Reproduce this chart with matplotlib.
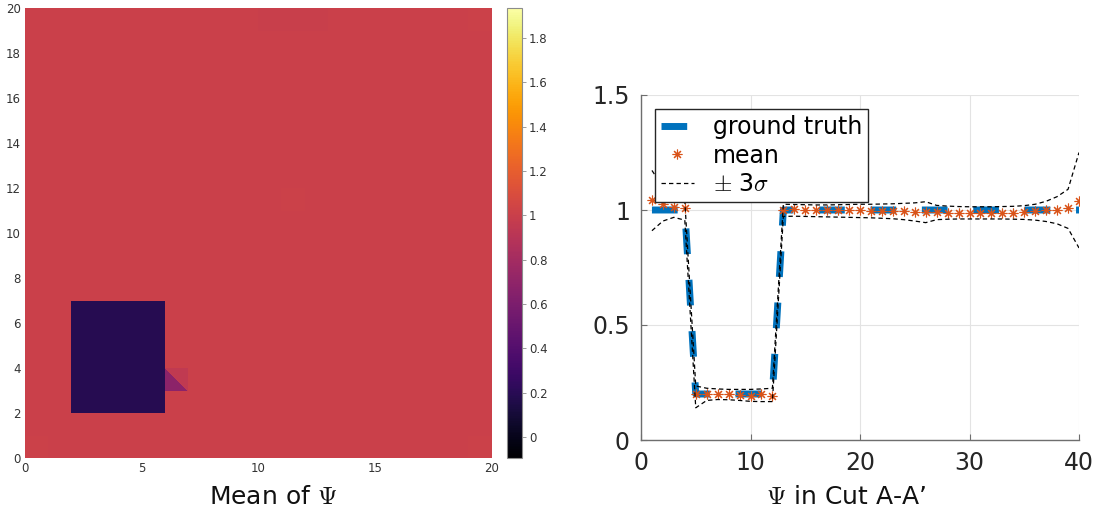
import numpy as np
import matplotlib
matplotlib.use("Agg")
import matplotlib.pyplot as plt
import matplotlib.tri as mtri

plt.rcParams['font.family'] = 'DejaVu Sans'
plt.rcParams['mathtext.fontset'] = 'cm'

# ---------------------------------------------------------------
# Mean of Psi on a 20 x 20 cell mesh (row 0 is the bottom row y in [0,1])
# ---------------------------------------------------------------
psi_cells = [
    [1.01, 1.00, 1.00, 1.00, 1.00, 1.00, 1.005, 1.00, 1.00, 1.00, 1.00, 1.00, 1.00, 1.00, 1.00, 1.00, 1.00, 1.00, 1.00, 1.01],
    [1.00, 1.00, 1.00, 1.00, 1.00, 1.00, 1.00, 1.00, 1.00, 1.00, 1.00, 1.00, 1.00, 1.00, 1.00, 1.00, 1.00, 1.00, 1.00, 1.005],
    [1.00, 1.00, 0.19, 0.19, 0.19, 0.19, 1.00, 1.00, 1.005, 1.00, 1.00, 1.00, 1.00, 1.00, 1.00, 1.00, 1.00, 1.00, 1.00, 1.00],
    [1.00, 1.00, 0.19, 0.19, 0.19, 0.19, 0.95, 1.00, 1.00, 1.00, 1.00, 1.00, 1.00, 1.00, 1.00, 1.00, 1.00, 1.00, 1.00, 1.00],
    [1.00, 1.00, 0.19, 0.19, 0.19, 0.19, 1.00, 1.00, 1.00, 1.00, 1.00, 1.00, 1.00, 1.00, 1.00, 1.00, 1.00, 1.00, 1.00, 1.00],
    [1.00, 1.00, 0.19, 0.19, 0.19, 0.19, 1.00, 1.00, 1.00, 1.00, 1.00, 1.00, 1.00, 1.00, 1.00, 1.00, 1.00, 1.00, 1.00, 1.00],
    [1.00, 1.00, 0.19, 0.19, 0.19, 0.19, 1.00, 1.00, 1.00, 1.00, 1.00, 1.00, 1.00, 1.00, 1.00, 1.00, 1.00, 1.00, 1.00, 1.00],
    [1.00, 1.00, 1.00, 1.00, 1.00, 1.00, 1.00, 1.00, 1.00, 1.00, 1.00, 1.00, 1.00, 1.00, 1.00, 1.00, 1.00, 1.00, 1.00, 1.00],
    [1.00, 1.00, 1.00, 1.00, 1.00, 1.00, 1.00, 1.00, 1.00, 1.00, 1.00, 1.00, 1.00, 1.00, 1.00, 1.00, 1.00, 1.00, 1.00, 1.00],
    [1.00, 1.00, 1.00, 1.00, 1.00, 1.00, 1.00, 1.00, 1.00, 1.00, 1.00, 1.00, 1.00, 1.00, 1.00, 1.00, 1.00, 1.00, 1.00, 1.00],
    [1.00, 1.00, 1.00, 1.00, 1.00, 1.00, 1.00, 1.00, 1.00, 1.00, 1.00, 1.00, 1.00, 1.00, 1.00, 1.00, 1.00, 1.00, 1.00, 1.00],
    [1.00, 1.00, 1.00, 1.00, 1.00, 1.00, 1.00, 1.00, 1.00, 1.00, 1.00, 1.015, 1.00, 1.00, 1.00, 1.00, 1.00, 1.00, 1.00, 1.00],
    [1.00, 1.00, 1.00, 1.00, 1.00, 1.00, 1.00, 1.00, 1.00, 1.00, 1.00, 1.00, 1.00, 1.00, 1.00, 1.00, 1.00, 1.00, 1.00, 1.00],
    [1.00, 1.00, 1.00, 1.00, 1.00, 1.00, 1.00, 1.00, 1.00, 1.00, 1.00, 1.00, 1.00, 1.00, 1.00, 1.00, 1.00, 1.00, 1.00, 1.00],
    [1.00, 1.00, 1.00, 1.00, 1.00, 1.00, 1.00, 1.00, 1.00, 1.00, 1.00, 1.00, 1.00, 1.00, 1.00, 1.00, 1.00, 1.00, 1.00, 1.00],
    [1.00, 1.00, 1.00, 1.00, 1.00, 1.00, 1.00, 1.00, 1.00, 1.00, 1.00, 1.00, 1.00, 1.00, 1.00, 1.00, 1.00, 1.00, 1.00, 1.00],
    [1.00, 1.00, 1.00, 1.00, 1.00, 1.00, 1.00, 1.00, 1.00, 1.00, 1.00, 1.00, 1.00, 1.00, 1.00, 1.00, 1.00, 1.00, 1.00, 1.00],
    [1.00, 1.00, 1.00, 1.00, 1.00, 1.00, 1.00, 1.00, 1.00, 1.00, 1.00, 1.00, 1.00, 1.00, 1.00, 1.00, 1.00, 1.00, 1.00, 1.00],
    [1.00, 1.00, 1.00, 1.00, 1.00, 1.00, 1.00, 1.00, 1.00, 1.00, 1.00, 1.00, 1.00, 1.00, 1.00, 1.00, 1.00, 1.00, 1.00, 1.005],
    [1.00, 1.00, 1.00, 1.00, 1.00, 1.00, 1.00, 1.00, 1.00, 1.00, 0.995, 0.995, 0.995, 1.00, 1.00, 1.00, 1.00, 1.00, 1.00, 1.015],
]
# cell whose lower-left triangle differs from its upper-right one: col, row, lower, upper
split_cell = [6, 3, 0.68, 0.95]

psi_clim = [-0.094, 1.935]
cbar_ticks = [0, 0.2, 0.4, 0.6, 0.8, 1.0, 1.2, 1.4, 1.6, 1.8]
map_ticks_x = [0, 5, 10, 15, 20]
map_ticks_y = [0, 2, 4, 6, 8, 10, 12, 14, 16, 18, 20]

# ---------------------------------------------------------------
# Cut A-A'
# ---------------------------------------------------------------
cut_x = [1, 2, 3, 4, 5, 6, 7, 8, 9, 10, 11, 12, 13, 14, 15, 16, 17, 18, 19, 20,
         21, 22, 23, 24, 25, 26, 27, 28, 29, 30, 31, 32, 33, 34, 35, 36, 37, 38, 39, 40]
cut_truth = [1.0, 1.0, 1.0, 1.0, 0.2, 0.2, 0.2, 0.2, 0.2, 0.2, 0.2, 0.2, 1.0, 1.0, 1.0, 1.0,
             1.0, 1.0, 1.0, 1.0, 1.0, 1.0, 1.0, 1.0, 1.0, 1.0, 1.0, 1.0, 1.0, 1.0, 1.0, 1.0,
             1.0, 1.0, 1.0, 1.0, 1.0, 1.0, 1.0, 1.0]
cut_mean = [1.043, 1.026, 1.015, 1.010, 0.200, 0.200, 0.199, 0.198, 0.195, 0.191, 0.198, 0.193,
            1.000, 1.004, 1.002, 1.001, 1.001, 1.000, 0.999, 0.998, 0.997, 0.996, 0.995, 0.994,
            0.993, 0.992, 0.990, 0.989, 0.988, 0.987, 0.988, 0.987, 0.988, 0.988, 0.991, 0.994,
            0.998, 1.002, 1.007, 1.037]
cut_upper = [1.172, 1.100, 1.060, 1.040, 0.235, 0.225, 0.222, 0.220, 0.220, 0.220, 0.222, 0.225,
             1.025, 1.024, 1.023, 1.022, 1.022, 1.023, 1.024, 1.025, 1.025, 1.026, 1.027, 1.029,
             1.031, 1.036, 1.020, 1.017, 1.015, 1.014, 1.014, 1.014, 1.015, 1.016, 1.019, 1.025,
             1.038, 1.058, 1.090, 1.250]
cut_lower = [0.910, 0.952, 0.968, 0.956, 0.140, 0.172, 0.176, 0.175, 0.172, 0.168, 0.167, 0.167,
             0.972, 0.973, 0.972, 0.971, 0.970, 0.969, 0.968, 0.967, 0.966, 0.964, 0.962, 0.958,
             0.952, 0.945, 0.958, 0.960, 0.961, 0.961, 0.961, 0.961, 0.961, 0.960, 0.959, 0.956,
             0.950, 0.940, 0.920, 0.835]

W, H = 1108, 515
fig = plt.figure(figsize=(W / 100, H / 100), dpi=100)


def frac(x0, y0, x1, y1):
    """Pixel box (left, top, right, bottom) -> figure fraction rect."""
    return [x0 / W, 1 - y1 / H, (x1 - x0) / W, (y1 - y0) / H]


# ---------------- left: triangulated mean field ----------------
ax1 = fig.add_axes(frac(25, 8, 492, 458))
cells = np.array(psi_cells)
ny, nx = cells.shape
gx, gy = np.meshgrid(np.arange(nx + 1), np.arange(ny + 1))
node = lambda i, j: j * (nx + 1) + i
tris, vals = [], []
for j in range(ny):
    for i in range(nx):
        lo = hi = cells[j, i]
        if i == split_cell[0] and j == split_cell[1]:
            lo, hi = split_cell[2], split_cell[3]
        tris.append([node(i, j), node(i + 1, j), node(i, j + 1)])
        vals.append(lo)
        tris.append([node(i + 1, j), node(i + 1, j + 1), node(i, j + 1)])
        vals.append(hi)
tri = mtri.Triangulation(gx.ravel(), gy.ravel(), np.array(tris))
pc = ax1.tripcolor(tri, facecolors=np.array(vals), cmap='inferno',
                   vmin=psi_clim[0], vmax=psi_clim[1], edgecolors='none',
                   antialiased=False)
ax1.set_xlim(0, nx)
ax1.set_ylim(0, ny)
ax1.set_xticks(map_ticks_x)
ax1.set_yticks(map_ticks_y)
ax1.tick_params(length=0, labelsize=8.5, colors='#333333', pad=3)
for s in ax1.spines.values():
    s.set_visible(False)

cax = fig.add_axes(frac(507, 8, 522, 458))
cb = fig.colorbar(pc, cax=cax, ticks=cbar_ticks)
cb.ax.set_yticklabels([f"{t:g}" for t in cbar_ticks])
cb.outline.set_edgecolor('#8c8c8c')
cb.outline.set_linewidth(0.8)
cb.ax.tick_params(length=3, width=0.6, color='#8c8c8c', labelsize=8.5,
                  labelcolor='#333333', pad=2)

fig.text(273 / W, 1 - 497 / H, r'Mean of $\Psi$', ha='center', va='center',
         fontsize=18, color='#111111')

# ---------------- right: cut A-A' ----------------
ax2 = fig.add_axes(frac(641, 95, 1079, 440))
ax2.plot(cut_x, cut_truth, color='#0072BD', lw=5, dashes=(3.7, 3.7),
         solid_capstyle='butt', dash_capstyle='butt', label='ground truth', zorder=2)
ax2.plot(cut_x, cut_mean, linestyle='none', marker=(8, 2, 0), ms=7, mew=0.8,
         color='#D95319', label='mean', zorder=3)
ax2.plot(cut_x, cut_upper, color='black', lw=0.9, dashes=(3.5, 2.5),
         label=r'$\pm$ 3$\sigma$', zorder=4)
ax2.plot(cut_x, cut_lower, color='black', lw=0.9, dashes=(3.5, 2.5), zorder=4)

ax2.set_xlim(0, 40)
ax2.set_ylim(0, 1.5)
ax2.set_xticks([0, 10, 20, 30, 40])
ax2.set_yticks([0, 0.5, 1.0, 1.5])
ax2.set_yticklabels(['0', '0.5', '1', '1.5'])
ax2.grid(True, color='#e3e3e3', lw=0.8)
ax2.set_axisbelow(True)
for side in ('top', 'right'):
    ax2.spines[side].set_visible(False)
for side in ('left', 'bottom'):
    ax2.spines[side].set_color('#6e6e6e')
    ax2.spines[side].set_linewidth(1.0)
ax2.tick_params(direction='in', length=4, width=0.8, color='#6e6e6e',
                labelsize=17, labelcolor='#262626', pad=8)

leg = ax2.legend(loc='upper left', bbox_to_anchor=((655 - 641) / 438, (440 - 109) / 345),
                 borderaxespad=0, fontsize=17, frameon=True, fancybox=False,
                 framealpha=1, edgecolor='#262626', borderpad=0.25, labelspacing=0.2,
                 handlelength=1.4, handletextpad=0.8)
leg.get_frame().set_linewidth(1.0)

fig.text(846 / W, 1 - 497 / H, r"$\Psi$ in Cut A-A’", ha='center', va='center',
         fontsize=18, color='#111111')

fig.savefig('out.png', dpi=100)
